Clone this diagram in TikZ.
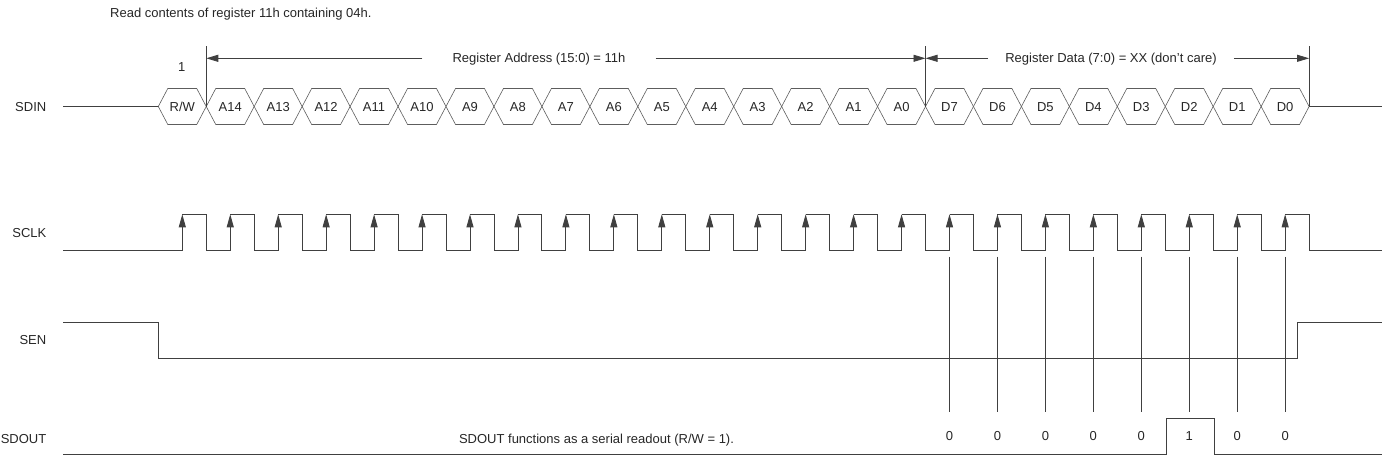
\documentclass[tikz,border=0pt]{standalone}
\usepackage{fontspec}
\setmainfont{Liberation Sans}
\usetikzlibrary{arrows.meta}

\definecolor{wire}{HTML}{404040}
\definecolor{ink}{HTML}{262626}

\tikzset{
  sig/.style={draw=wire, line width=0.9pt},
  hexline/.style={draw=wire!85, line width=0.6pt},
  txt/.style={font=\fontsize{13}{15}\selectfont, text=ink, inner sep=0pt, anchor=base},
  dimarrow/.style={draw=wire, line width=0.8pt, -{Triangle[length=12pt,width=7pt]}},
  edgearrow/.style={draw=wire, line width=0.9pt, -{Triangle[length=13pt,width=7pt]}}
}

\begin{document}
\begin{tikzpicture}[x=1pt,y=-1pt]
    \useasboundingbox (0,0) rectangle (1382,455);

    \node[txt, anchor=base west] (title) at (110,17.2) {Read contents of register 11h containing 04h.};

    % signal names
    \node[txt, anchor=base east] (sdin)  at (46.5,111.9) {SDIN};
    \node[txt, anchor=base east] (sclk)  at (46.5,237.4) {SCLK};
    \node[txt, anchor=base east] (sen)   at (46.5,344.0) {SEN};
    \node[txt, anchor=base east] (sdout) at (46.5,443.9) {SDOUT};

    % SDIN bus
    \coordinate (sdinL) at (63,106.5);
    \coordinate (sdinS) at (158.3,106.5);
    \coordinate (sdinE) at (1309.1,106.5);
    \coordinate (sdinR) at (1382,106.5);
    \draw[sig] (sdinL) -- (sdinS);
    \draw[sig] (sdinE) -- (sdinR);
    \foreach \lbl [count=\i from 0] in {{R/W},A14,A13,A12,A11,A10,A9,A8,A7,A6,A5,A4,A3,A2,A1,A0,D7,D6,D5,D4,D3,D2,D1,D0}
    {
        \pgfmathsetmacro\xa{158.3+47.95*\i}
        \pgfmathsetmacro\xb{\xa+47.95}
        \draw[hexline] (\xa,106.5) -- (\xa+9.5,88.5) -- (\xb-9.5,88.5) -- (\xb,106.5)
            -- (\xb-9.5,124.5) -- (\xa+9.5,124.5) -- cycle;
        \node[txt] (bit\i) at (\xa+23.975,111.2) {\lbl};
    }
    \node[txt] (rw) at (181.7,71.7) {1};

    % field markers
    \coordinate (mkA) at (206.25,46);
    \coordinate (mkB) at (925.5,46);
    \coordinate (mkC) at (1309.1,46);
    \foreach \m in {mkA,mkB,mkC}
        \draw[sig, line width=0.8pt] (\m) -- (\m |- sdinS);
    \coordinate (arrA) at (206.25,58.3);
    \coordinate (arrB) at (925.5,58.3);
    \coordinate (arrC) at (1309.1,58.3);

    \node[txt, inner xsep=30pt] (addr) at (539,62.7) {Register Address (15:0) = 11h};
    \node[txt, inner xsep=17pt] (data) at (1111,62.9) {Register Data (7:0) = XX (don't care)};
    \draw[dimarrow] (addr.west |- arrA) -- (arrA);
    \draw[dimarrow] (addr.east |- arrB) -- (arrB);
    \draw[dimarrow] (data.west |- arrB) -- (arrB);
    \draw[dimarrow] (data.east |- arrC) -- (arrC);

    % SCLK
    \draw[sig] (63,250.7) -- (182.3,250.7);
    \foreach \i in {0,...,23}
    {
        \pgfmathsetmacro\xr{182.3+47.95*\i}
        \pgfmathsetmacro\xf{\xr+23.975}
        \draw[edgearrow] (\xr,250.7) -- (\xr,214.3);
        \draw[sig] (\xr,214.3) -- (\xf,214.3) -- (\xf,250.7) -- (\xf+23.975,250.7);
    }
    \draw[sig] (1309.1,250.7) -- (1382,250.7);

    % SEN
    \draw[sig] (63,322.3) -- (158.3,322.3) -- (158.3,358.3) -- (1297.3,358.3)
        -- (1297.3,322.3) -- (1382,322.3);

    % readout ticks and SDOUT bits
    \foreach \b [count=\i from 16] in {0,0,0,0,0,1,0,0}
    {
        \pgfmathsetmacro\xr{182.3+47.95*\i}
        \coordinate (tick\i) at (\xr,256.7);
        \coordinate (tickb\i) at (\xr,412.3);
        \draw[sig, line width=0.8pt] (tick\i) -- (tickb\i);
        \node[txt] (out\i) at (\xr,440) {\b};
    }

    % SDOUT
    \draw[sig] (63,454.3) -- (1166,454.3) -- (1166,418.3) -- (1214,418.3)
        -- (1214,454.3) -- (1382,454.3);
    \node[txt] (note) at (596.5,443.3) {SDOUT functions as a serial readout (R/W = 1).};
\end{tikzpicture}
\end{document}
